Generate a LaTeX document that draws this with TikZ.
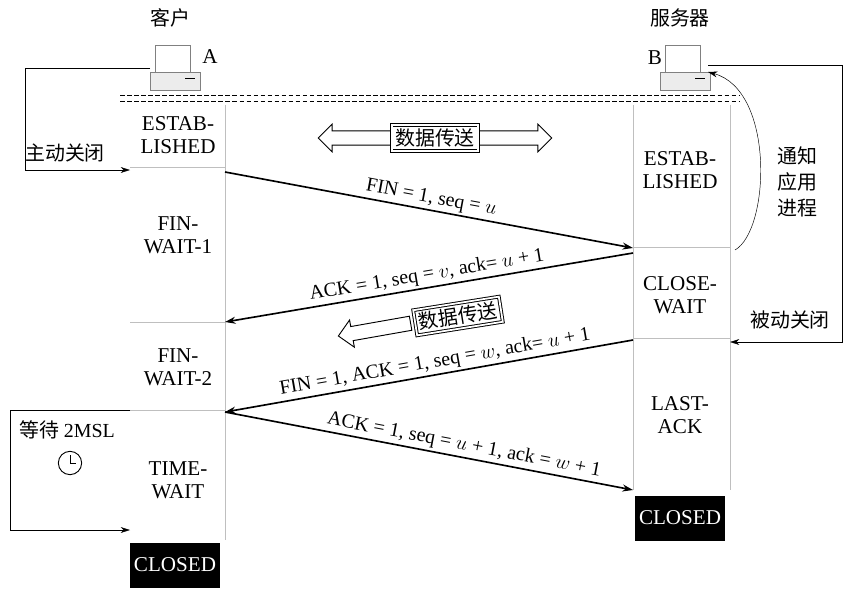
\documentclass[tikz,border=0pt]{standalone}
\usepackage{fontspec}
\setmainfont{Liberation Serif}
\newfontfamily\cjk{Noto Sans CJK SC}
\usetikzlibrary{arrows.meta,shapes.arrows}
\begin{document}
\begin{tikzpicture}[x=0.03cm,y=-0.03cm,
  st/.style={align=center,font=\fontsize{18}{20}\selectfont},
  zh/.style={font=\cjk\fontsize{17}{22}\selectfont},
  msg/.style={-{Stealth[length=9pt,width=6pt]},line width=1.4pt},
  lbl/.style={sloped,above,font=\fontsize{17}{20}\selectfont,inner sep=2pt},
  ln/.style={-{Stealth[length=8pt,width=5pt]},thin},
  gl/.style={gray!50,line width=0.8pt},
  cl/.style={fill=black,text=white,font=\fontsize{18}{20}\selectfont,minimum width=2.7cm,minimum height=1.35cm},
  hol/.style={draw,thick,fill=white,inner xsep=0pt,inner ysep=0.2cm,double arrow head extend=0.2cm,single arrow head extend=0.2cm},
  dbox/.style={draw,double,double distance=1.5pt,thick,fill=white,zh,inner sep=3pt}]
\useasboundingbox (0,0) rectangle (851,593);
% computers
\foreach \n/\x in {pcA/150,pcB/660}{
  \draw[gray] (\x+5,45) rectangle (\x+40,72);
  \draw[gray,fill=gray!15] (\x,72) rectangle (\x+50,90);
  \draw[thick] (\x+35,78)--(\x+45,78);
  \coordinate (\n) at (\x+25,68);
}
\node[zh] (kh) at (170,18) {客户};
\node[zh] (fwq) at (680,18) {服务器};
\node[st] (la) at (210,57) {A};
\node[st] (lb) at (655,58) {B};
\coordinate (aL) at (150,68);
\coordinate (bR) at (708,65);
\coordinate (bA) at (708,72);
% dashed lines
\draw[dashed,thick,dash pattern=on 4pt off 2pt] (120,95)--(740,95) (120,101)--(740,101);
% columns
\draw[gl] (225,105)--(225,540) (633,105)--(633,490) (730,105)--(730,490);
\draw[gl] (130,167)--(225,167) (130,322)--(225,322) (130,410)--(225,410);
\draw[gl] (633,247)--(730,247) (633,338)--(730,338);
% states
\node[st] (e1) at (178,135) {ESTAB-\\LISHED};
\node[st] (f1) at (178,235) {FIN-\\WAIT-1};
\node[st] (f2) at (178,367) {FIN-\\WAIT-2};
\node[st] (tw) at (178,480) {TIME-\\WAIT};
\node[cl] (c1) at (175,565) {CLOSED};
\node[st] (e2) at (680,170) {ESTAB-\\LISHED};
\node[st] (cw) at (680,295) {CLOSE-\\WAIT};
\node[st] (la2) at (680,415) {LAST-\\ACK};
\node[cl] (c2) at (680,518) {CLOSED};
% message endpoints
\coordinate (p1) at (225,172); \coordinate (q1) at (633,248);
\coordinate (p2) at (633,253); \coordinate (q2) at (225,322);
\coordinate (p3) at (633,340); \coordinate (q3) at (225,412);
\coordinate (q4) at (633,490);
\draw[msg] (p1) -- node[lbl] {FIN = 1, seq = $u$} (q1);
\draw[msg] (p2) -- node[lbl] {ACK = 1, seq = $v$, ack= $u$ + 1} (q2);
\draw[msg] (p3) -- node[lbl,pos=0.48] {FIN = 1, ACK = 1, seq = $w$, ack= $u$ + 1} (q3);
\draw[msg] (q3) -- node[lbl,pos=0.58] {ACK = 1, seq = $u$ + 1, ack = $w$ + 1} (q4);
% data transfer
\node[double arrow,hol,minimum height=7cm] (da) at (435,138) {};
\node[dbox] (d1) at (435,138) {数据传送};
\node[single arrow,hol,shape border rotate=180,rotate=10,minimum height=2.2cm] (sa) at (378,329) {};
\node[dbox,rotate=9] (d2) at (458,316) {数据传送};
% left loop
\coordinate (l1) at (25,68); \coordinate (l2) at (25,170); \coordinate (l3) at (130,170);
\draw[ln] (aL)--(l1)--(l2)--(l3);
\node[zh] (zd) at (65,153) {主动关闭};
% right loops
\coordinate (r0) at (735,250);
\draw[ln] (r0) .. controls (770,230) and (775,90) .. (bA);
\node[zh,align=center] (tz) at (797,182) {通知\\应用\\进程};
\coordinate (r1) at (842,65); \coordinate (r2) at (842,342); \coordinate (r3) at (730,342);
\draw[ln] (bR)--(r1)--(r2)--(r3);
\node[zh] (bd) at (790,320) {被动关闭};
% 2MSL
\coordinate (m0) at (130,410); \coordinate (m1) at (10,410); \coordinate (m2) at (10,530); \coordinate (m3) at (130,530);
\draw[ln] (m0)--(m1)--(m2)--(m3);
\node[font=\fontsize{17}{20}\selectfont] (ms) at (67,430) {{\cjk 等待} 2MSL};
\node[draw,circle,thick,minimum size=0.7cm,inner sep=0pt] (ck) at (70,463) {};
\draw (ck.center)--++(0,-8) (ck.center)--++(6,0);
\end{tikzpicture}
\end{document}
